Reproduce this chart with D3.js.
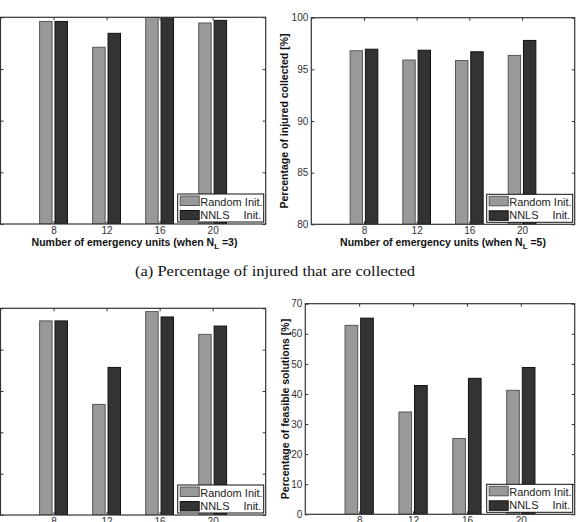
<!DOCTYPE html>
<html>
<head>
<meta charset="utf-8">
<script src="https://cdn.jsdelivr.net/npm/d3@7"></script>
<style>
body { margin: 0; background: #fff; }
svg { display: block; }
</style>
</head>
<body>
<script>
var w = 584;
var h = 522;

// data
var units = [8, 12, 16, 20];
var seriesNames = ["Random Init.", "NNLS"];
var injuredRandomL3 = [99.6, 97.1, 100, 99.45];
var injuredNnlsL3 = [99.6, 98.45, 100, 99.7];
var injuredRandomL5 = [96.8, 95.9, 95.85, 96.35];
var injuredNnlsL5 = [96.95, 96.85, 96.7, 97.8];
var feasibleRandomL3 = [93.9, 53.5, 98.4, 87.4];
var feasibleNnlsL3 = [93.9, 71.4, 95.8, 91.4];
var feasibleRandomL5 = [62.8, 34, 25.2, 41.2];
var feasibleNnlsL5 = [65.2, 42.8, 45.2, 48.8];
var injuredTicks = [80, 85, 90, 95, 100];
var feasibleTicksL3 = [0, 20, 40, 60, 80, 100];
var feasibleTicksL5 = [0, 10, 20, 30, 40, 50, 60, 70];

var randomColor = "#999999";
var nnlsColor = "#333333";

var svg = d3.select("body")
    .append("svg")
    .attr("width", w)
    .attr("height", h)
    .style("font-family", "'Liberation Sans', Arial, sans-serif");

function drawPanel(p) {
    var x = d3.scaleLinear().domain([0, 5]).range([p.left, p.right]);
    var y = d3.scaleLinear().domain(p.yDomain).range([p.bottom, p.top]);
    var g = svg.append("g");

    // clip so bars stay inside the box
    var clipId = "clip" + p.id;
    g.append("clipPath").attr("id", clipId)
        .append("rect")
        .attr("x", p.left).attr("y", p.top)
        .attr("width", p.right - p.left).attr("height", p.bottom - p.top);

    var bars = g.append("g").attr("clip-path", "url(#" + clipId + ")");
    var bw = 0.235;
    var off = 0.145;
    var groups = [
        {vals: p.random, shift: -off, fill: randomColor, stroke: "#555"},
        {vals: p.nnls, shift: off, fill: nnlsColor, stroke: "#111"}
    ];
    groups.forEach(function (s) {
        bars.selectAll(null)
            .data(s.vals)
            .enter()
            .append("rect")
            .attr("x", function (d, i) { return x(i + 1 + s.shift - bw / 2); })
            .attr("width", x(bw) - x(0))
            .attr("y", function (d) { return y(d); })
            .attr("height", function (d) { return y(p.yDomain[0]) - y(d); })
            .attr("fill", s.fill)
            .attr("stroke", s.stroke)
            .attr("stroke-width", 1);
    });

    // axes with inward ticks on all sides, like matlab
    var axisColor = "#333";
    var yLeft = d3.axisLeft(y).tickValues(p.yTicks).tickSizeInner(-3).tickSizeOuter(0).tickPadding(3);
    // left panels are cropped in the figure, their y labels fall off the page
    if (p.cropped) yLeft.tickFormat("");
    var gy = g.append("g").attr("transform", "translate(" + p.left + ",0)").call(yLeft);
    var yRight = d3.axisRight(y).tickValues(p.yTicks).tickSizeInner(-3).tickSizeOuter(0).tickFormat("");
    var gy2 = g.append("g").attr("transform", "translate(" + p.right + ",0)").call(yRight);
    var xBottom = d3.axisBottom(x).tickValues([1, 2, 3, 4])
        .tickFormat(function (d) { return units[d - 1]; })
        .tickSizeInner(-3).tickSizeOuter(0).tickPadding(3);
    var gx = g.append("g").attr("transform", "translate(0," + p.bottom + ")").call(xBottom);
    var xTop = d3.axisTop(x).tickValues([1, 2, 3, 4]).tickSizeInner(-3).tickSizeOuter(0).tickFormat("");
    var gx2 = g.append("g").attr("transform", "translate(0," + p.top + ")").call(xTop);

    [gy, gy2, gx, gx2].forEach(function (a) {
        a.select(".domain").remove();
        a.selectAll("line").attr("stroke", axisColor);
        a.selectAll("text").attr("fill", "#333").style("font-size", "10px")
            .style("font-family", "'Liberation Sans', Arial, sans-serif");
    });

    g.append("rect")
        .attr("x", p.left).attr("y", p.top)
        .attr("width", p.right - p.left).attr("height", p.bottom - p.top)
        .attr("fill", "none").attr("stroke", axisColor).attr("stroke-width", 1.2);

    // x label with subscript
    if (p.xLabel) {
        var xl = g.append("text")
            .attr("x", (p.left + p.right) / 2 + p.xLabelShift)
            .attr("y", p.bottom + 21.5)
            .attr("text-anchor", "middle")
            .style("font-size", "10.5px")
            .style("font-weight", "bold")
            .attr("fill", "#111");
        xl.append("tspan").text("Number of emergency units (when N");
        xl.append("tspan").attr("dy", 3).style("font-size", "8px").text("L");
        xl.append("tspan").attr("dy", -3).text(" =" + p.xLabel + ")");
    }

    if (p.yLabel) {
        g.append("text")
            .attr("transform", "translate(" + p.yLabelX + "," + (p.top + p.bottom) / 2 + ") rotate(-90)")
            .attr("text-anchor", "middle")
            .style("font-size", "10.5px")
            .style("font-weight", "bold")
            .attr("fill", "#111")
            .text(p.yLabel);
    }

    // legend
    var lw = 86, lh = 28;
    var lx = p.right - 2 - lw;
    var ly = p.bottom - 2 - lh;
    var lg = g.append("g");
    lg.append("rect").attr("x", lx).attr("y", ly).attr("width", lw).attr("height", lh)
        .attr("fill", "#fff").attr("stroke", "#111").attr("stroke-width", 1);
    [randomColor, nnlsColor].forEach(function (c, i) {
        lg.append("rect")
            .attr("x", lx + 2.5).attr("y", ly + 2 + i * 14.5)
            .attr("width", 19).attr("height", 9.5)
            .attr("fill", c).attr("stroke", i ? "#111" : "#555");
    });
    lg.append("text").attr("x", lx + 22.5).attr("y", ly + 11.5)
        .style("font-size", "11px").attr("fill", "#222").text(seriesNames[0]);
    lg.append("text").attr("x", lx + 22.5).attr("y", ly + 24.5)
        .style("font-size", "11px").attr("fill", "#222").text(seriesNames[1]);
    lg.append("text").attr("x", lx + lw - 2.5).attr("y", ly + 24.5)
        .attr("text-anchor", "end")
        .style("font-size", "11px").attr("fill", "#222").text("Init.");
}

drawPanel({id: 1, left: 0.5, right: 265.7, top: 17.3, bottom: 224,
    yDomain: [80, 100], yTicks: injuredTicks, cropped: true,
    random: injuredRandomL3, nnls: injuredNnlsL3,
    xLabel: "3", xLabelShift: 1.4});
drawPanel({id: 2, left: 311.3, right: 574.7, top: 17.7, bottom: 224.3,
    yDomain: [80, 100], yTicks: injuredTicks,
    random: injuredRandomL5, nnls: injuredNnlsL5,
    xLabel: "5", xLabelShift: 0,
    yLabel: "Percentage of injured collected [%]", yLabelX: 288});
drawPanel({id: 3, left: 0.5, right: 265.7, top: 308.3, bottom: 515,
    yDomain: [0, 100], yTicks: feasibleTicksL3, cropped: true,
    random: feasibleRandomL3, nnls: feasibleNnlsL3});
drawPanel({id: 4, left: 305.3, right: 574.7, top: 303.7, bottom: 514.3,
    yDomain: [0, 70], yTicks: feasibleTicksL5,
    random: feasibleRandomL5, nnls: feasibleNnlsL5,
    yLabel: "Percentage of feasible solutions [%]", yLabelX: 288.5});

svg.append("text")
    .attr("x", 275)
    .attr("y", 276)
    .attr("text-anchor", "middle")
    .attr("textLength", 280)
    .attr("lengthAdjust", "spacingAndGlyphs")
    .style("font-family", "'Liberation Serif', 'Times New Roman', serif")
    .style("font-size", "15.5px")
    .attr("fill", "#111")
    .text("(a) Percentage of injured that are collected");
</script>
</body>
</html>
